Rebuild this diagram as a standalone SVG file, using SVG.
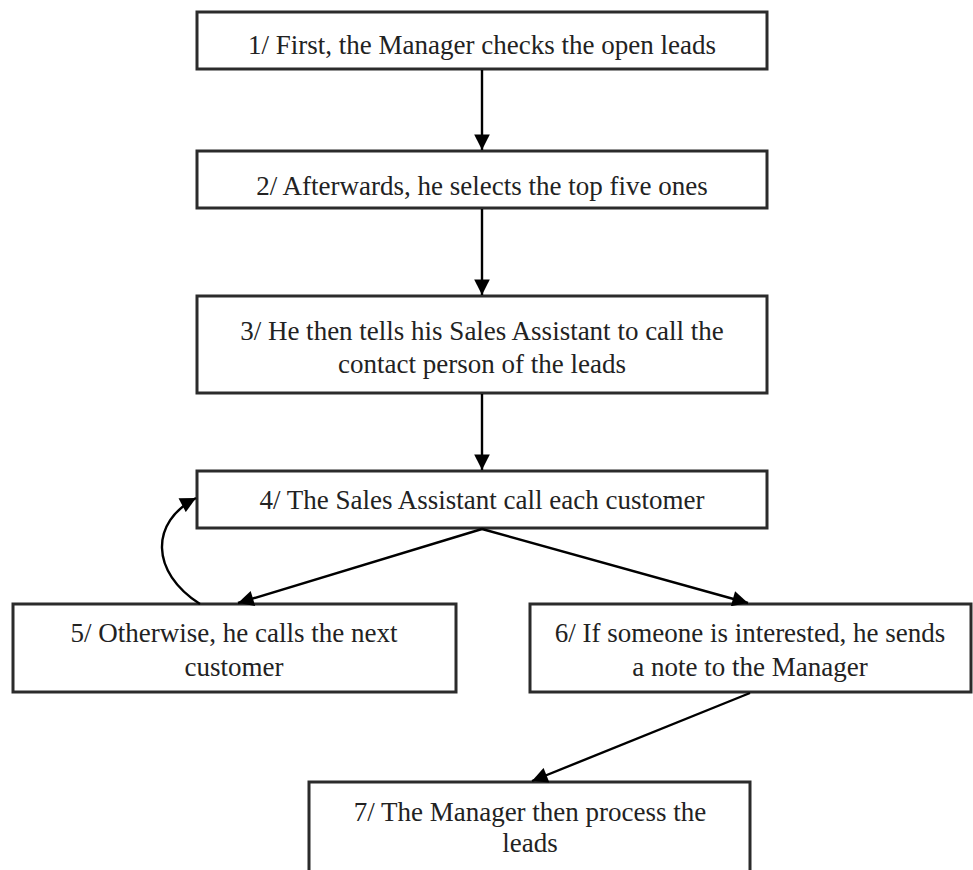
<svg xmlns="http://www.w3.org/2000/svg" width="973" height="870" viewBox="0 0 973 870">
  <style>
    .box { fill: #ffffff; stroke: #2b2b2b; stroke-width: 3; }
    .label { font-family: "Liberation Serif", serif; font-size: 27px; fill: #222222; text-anchor: middle; }
    .edge { fill: none; stroke: #000000; stroke-width: 2.4; marker-end: url(#arrow); }
  </style>
  <defs>
    <marker id="arrow" viewBox="0 0 10 10" refX="10" refY="5" markerWidth="7.5" markerHeight="6.5" markerUnits="strokeWidth" orient="auto">
      <path d="M0,0 L10,5 L0,10 z" fill="#000000"/>
    </marker>
  </defs>
  <rect width="973" height="870" fill="#ffffff"/>

  <g id="node1">
    <rect class="box" x="197" y="12" width="570" height="57"/>
    <text class="label" x="482" y="54">1/ First, the Manager checks the open leads</text>
  </g>
  <g id="node2">
    <rect class="box" x="197" y="151" width="570" height="57"/>
    <text class="label" x="482" y="195">2/ Afterwards, he selects the top five ones</text>
  </g>
  <g id="node3">
    <rect class="box" x="197" y="296" width="570" height="97"/>
    <text class="label" x="482" y="340">3/ He then tells his Sales Assistant to call the</text>
    <text class="label" x="482" y="373">contact person of the leads</text>
  </g>
  <g id="node4">
    <rect class="box" x="197" y="471" width="570" height="57"/>
    <text class="label" x="482" y="509">4/ The Sales Assistant call each customer</text>
  </g>
  <g id="node5">
    <rect class="box" x="13" y="604" width="443" height="88"/>
    <text class="label" x="234" y="642">5/ Otherwise, he calls the next</text>
    <text class="label" x="234" y="676">customer</text>
  </g>
  <g id="node6">
    <rect class="box" x="530" y="604" width="441" height="88"/>
    <text class="label" x="750" y="642">6/ If someone is interested, he sends</text>
    <text class="label" x="750" y="676">a note to the Manager</text>
  </g>
  <g id="node7">
    <rect class="box" x="309" y="782" width="441" height="92"/>
    <text class="label" x="530" y="821">7/ The Manager then process the</text>
    <text class="label" x="530" y="852">leads</text>
  </g>

  <g id="connectors">
    <path class="edge" d="M482,70 L482,150"/>
    <path class="edge" d="M482,209 L482,295"/>
    <path class="edge" d="M482,394 L482,470"/>
    <path class="edge" d="M482,529 L238,603"/>
    <path class="edge" d="M482,529 L748,603"/>
    <path class="edge" d="M750,693 L532,781"/>
    <path class="edge" d="M200,604 C150,572 150,522 196,498"/>
  </g>
</svg>
